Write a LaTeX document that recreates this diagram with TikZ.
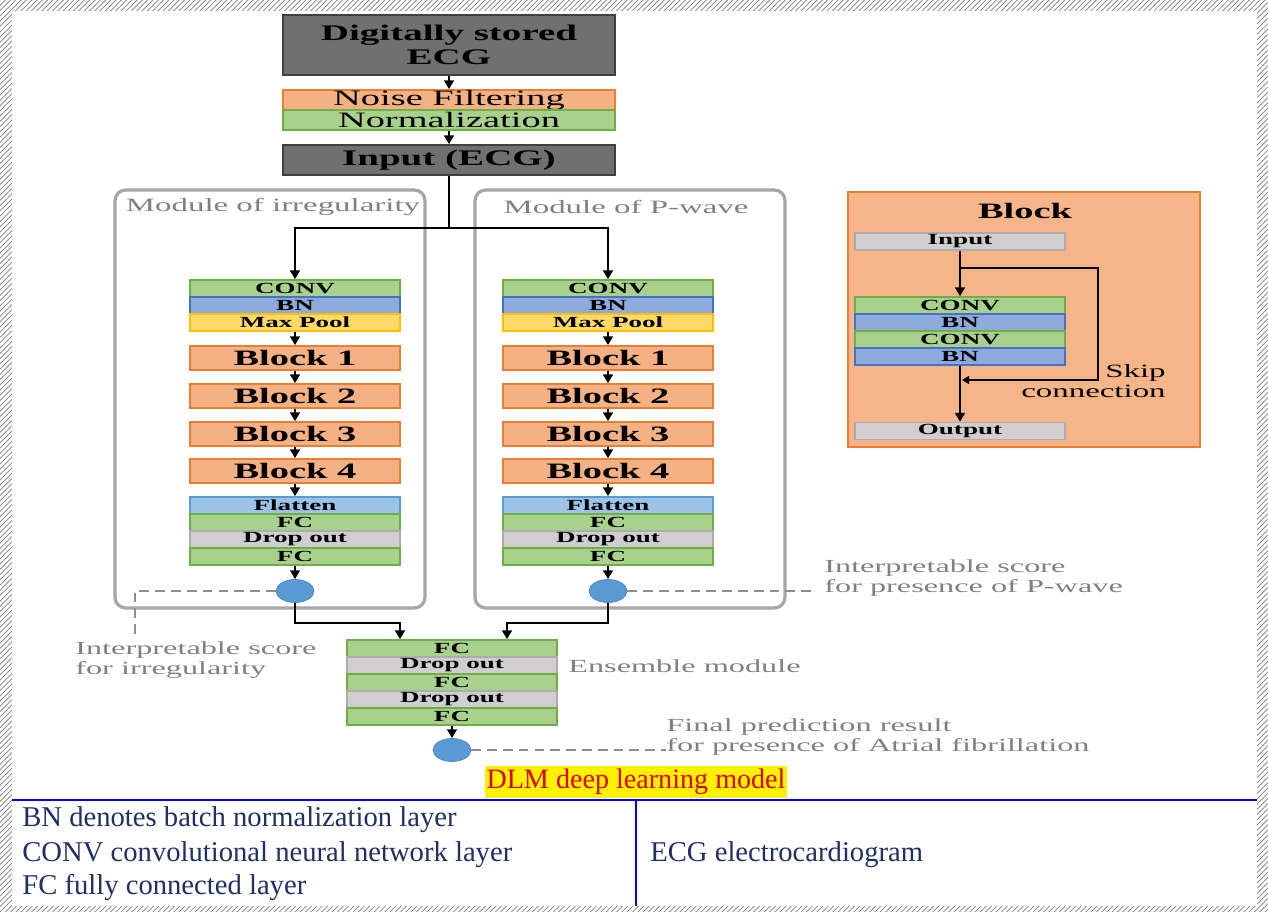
\documentclass[tikz,border=0pt]{standalone}
\usepackage{fontspec}
\setmainfont{Liberation Serif}
\newfontfamily\widefont{Liberation Serif}[FakeStretch=1.75]
\usepackage{tikz}
\usetikzlibrary{shapes.geometric, arrows.meta, positioning, backgrounds, calc, patterns}
\definecolor{greenfill}{RGB}{169, 209, 142}
\definecolor{greenedge}{RGB}{112, 173, 71}
\definecolor{bluefill}{RGB}{143, 170, 220}
\definecolor{blueedge}{RGB}{68, 114, 196}
\definecolor{yellowfill}{RGB}{255, 217, 102}
\definecolor{yellowedge}{RGB}{255, 192, 0}
\definecolor{salmonfill}{RGB}{244, 177, 131}
\definecolor{salmonedge}{RGB}{237, 125, 49}
\definecolor{skyfill}{RGB}{157, 195, 230}
\definecolor{skyedge}{RGB}{91, 155, 213}
\definecolor{grayfill}{RGB}{208, 206, 206}
\definecolor{grayedge}{RGB}{175, 171, 171}
\definecolor{darkfill}{RGB}{112, 112, 112}
\definecolor{scoreblue}{RGB}{91, 155, 213}
\definecolor{framegray}{RGB}{166, 166, 166}
\definecolor{notegray}{RGB}{128, 128, 128}
\definecolor{legendblue}{RGB}{31, 48, 100}
\definecolor{dlmred}{RGB}{220, 0, 0}

\begin{document}
\begin{tikzpicture}[
  x=0.02cm, y=-0.02cm,
  layer/.style={rectangle, minimum width=4.2cm, minimum height=0.34cm, inner sep=0pt, text centered, line width=0.9pt, font=\widefont\bfseries\fontsize{8.8}{9}\selectfont},
  lay_green/.style={layer, draw=greenedge, fill=greenfill},
  lay_blue/.style={layer, draw=blueedge, fill=bluefill},
  lay_yellow/.style={layer, draw=yellowedge, fill=yellowfill},
  lay_sky/.style={layer, draw=skyedge, fill=skyfill},
  lay_gray/.style={layer, draw=grayedge, fill=grayfill},
  lay_block/.style={layer, minimum height=0.48cm, draw=salmonedge, fill=salmonfill, font=\widefont\bfseries\fontsize{12.5}{13}\selectfont},
  top_dark/.style={rectangle, minimum width=6.64cm, minimum height=1.2cm, inner sep=0pt, align=center, line width=0.9pt, draw=black!75, fill=darkfill, font=\widefont\bfseries\fontsize{12.7}{14}\selectfont},
  top_band/.style={rectangle, minimum width=6.64cm, minimum height=0.4cm, inner sep=0pt, line width=0.9pt, font=\widefont\fontsize{12.5}{12.5}\selectfont},
  modframe/.style={rectangle, rounded corners=6pt, draw=framegray, line width=1.8pt, minimum width=6.2cm, minimum height=8.36cm},
  modlabel/.style={text=notegray, font=\widefont\fontsize{10.7}{11}\selectfont, inner sep=0pt},
  note/.style={text=notegray, align=left, font=\widefont\fontsize{10.5}{11.5}\selectfont, inner sep=0pt},
  score/.style={ellipse, fill=scoreblue, draw=scoreblue!85!black, line width=0.4pt, minimum width=0.76cm, minimum height=0.46cm, inner sep=0pt},
  blkframe/.style={rectangle, draw=salmonedge, line width=0.9pt, fill=salmonfill!95!white, minimum width=7.04cm, minimum height=5.1cm},
  legend/.style={text=legendblue, font=\fontsize{16.3}{19}\selectfont, inner sep=0pt},
  arr/.style={-{Triangle[length=5pt, width=5.5pt]}, line width=1.3pt, color=black},
  sarr/.style={-{Triangle[length=4pt, width=4.5pt]}, line width=0.9pt, color=black},
  dline/.style={dash pattern=on 5.5pt off 3.5pt, line width=1.3pt, color=notegray!90},
  tablerule/.style={line width=1.2pt, color=blue}
]
\useasboundingbox (0,0) rectangle (1268,912);

% Pre-processing
\node[top_dark] (ecg) at (449,45) {Digitally stored\\ECG};
\node[top_band, draw=salmonedge, fill=salmonfill] (noise) at (449,100) {Noise Filtering};
\node[top_band, draw=greenedge, fill=greenfill] (norm) at (449,120) {Normalization};
\node[top_dark, minimum height=0.6cm] (input) at (449,160) {Input (ECG)};
\coordinate (split) at (449,228);

% Module of irregularity
\node[lay_green] (convA) at (295,288.5) {CONV};
\node[lay_blue] (bnA) at (295,305.5) {BN};
\node[lay_yellow] (poolA) at (295,322.5) {Max Pool};
\node[lay_block] (blk1A) at (295,358) {Block 1};
\node[lay_block] (blk2A) at (295,396) {Block 2};
\node[lay_block] (blk3A) at (295,434) {Block 3};
\node[lay_block] (blk4A) at (295,471) {Block 4};
\node[lay_sky] (flatA) at (295,505.5) {Flatten};
\node[lay_green] (fc1A) at (295,522.5) {FC};
\node[lay_gray] (dropA) at (295,539.5) {Drop out};
\node[lay_green] (fc2A) at (295,556.5) {FC};
\node[score] (scoreA) at (295,591) {};

% Module of P-wave
\node[lay_green] (convB) at (608,288.5) {CONV};
\node[lay_blue] (bnB) at (608,305.5) {BN};
\node[lay_yellow] (poolB) at (608,322.5) {Max Pool};
\node[lay_block] (blk1B) at (608,358) {Block 1};
\node[lay_block] (blk2B) at (608,396) {Block 2};
\node[lay_block] (blk3B) at (608,434) {Block 3};
\node[lay_block] (blk4B) at (608,471) {Block 4};
\node[lay_sky] (flatB) at (608,505.5) {Flatten};
\node[lay_green] (fc1B) at (608,522.5) {FC};
\node[lay_gray] (dropB) at (608,539.5) {Drop out};
\node[lay_green] (fc2B) at (608,556.5) {FC};
\node[score] (scoreB) at (608,591) {};

% Ensemble module
\node[lay_green] (ensfc1) at (452,648.5) {FC};
\node[lay_gray] (ensdrop1) at (452,665.5) {Drop out};
\node[lay_green] (ensfc2) at (452,682.5) {FC};
\node[lay_gray] (ensdrop2) at (452,699.5) {Drop out};
\node[lay_green] (ensfc3) at (452,716.5) {FC};
\node[score] (final) at (452,750) {};
\node[note, anchor=west] (enslbl) at (568,666) {Ensemble module};

% Page frame and module frames
\begin{scope}[on background layer]
  \fill[pattern=north east lines, pattern color=gray] (0,0) rectangle (1268,912);
  \fill[white] (12,11) rectangle (1257,906);
  \node[modframe] (frameA) at (270,399) {};
  \node[modframe] (frameB) at (630,399) {};
\end{scope}
\node[modlabel] (lblA) at (273,207) {Module of irregularity};
\node[modlabel] (lblB) at (626,207) {Module of P-wave};

% Score notes
\node[note, anchor=north west] (noteA) at (75,641) {Interpretable score\\for irregularity};
\node[note, anchor=north west] (noteB) at (824,559) {Interpretable score\\for presence of P-wave};
\node[note, anchor=north west] (noteF) at (666,718) {Final prediction result\\for presence of Atrial fibrillation};
\coordinate (endA) at (135,639);

% Block detail
\node[blkframe] (blkbox) at (1024,319.5) {};
\node[font=\widefont\bfseries\fontsize{12.5}{13}\selectfont] (blkhead) at (1025,211) {Block};
\node[lay_gray] (blkin) at (960,241.5) {Input};
\node[lay_green] (blkconv1) at (960,305.5) {CONV};
\node[lay_blue] (blkbn1) at (960,322.5) {BN};
\node[lay_green] (blkconv2) at (960,339.5) {CONV};
\node[lay_blue] (blkbn2) at (960,356.5) {BN};
\node[lay_gray] (blkout) at (960,431) {Output};
\node[align=right, anchor=east, inner sep=0pt, font=\widefont\fontsize{10.7}{11.5}\selectfont] (skiplbl) at (1166,381) {Skip\\connection};
\coordinate (skipS) at (960,268);
\coordinate (skipE) at (962,380);

% Caption and legend
\node[fill=yellow, text=dlmred, inner xsep=1pt, inner ysep=2pt, font=\fontsize{16}{18}\selectfont] (dlm) at (636,782) {DLM deep learning model};
\draw[tablerule] (12,800) -- (1257,800);
\draw[tablerule] (636,800) -- (636,906);
\node[legend, anchor=west] (legBN) at (22,820) {BN denotes batch normalization layer};
\node[legend, anchor=west] (legCONV) at (22,855) {CONV convolutional neural network layer};
\node[legend, anchor=west] (legFC) at (22,888) {FC fully connected layer};
\node[legend, anchor=west] (legECG) at (650,855) {ECG electrocardiogram};

% Edges - pre-processing
\draw[arr] (ecg) -- (noise);
\draw[arr] (norm) -- (input);
\draw[arr] (input.south) -- (split) -| (convA.north);
\draw[arr] (split) -| (convB.north);

% Edges - modules
\draw[arr] (poolA) -- (blk1A);
\draw[arr] (blk1A) -- (blk2A);
\draw[arr] (blk2A) -- (blk3A);
\draw[arr] (blk3A) -- (blk4A);
\draw[arr] (blk4A) -- (flatA);
\draw[arr] (fc2A) -- (scoreA);
\draw[arr] (poolB) -- (blk1B);
\draw[arr] (blk1B) -- (blk2B);
\draw[arr] (blk2B) -- (blk3B);
\draw[arr] (blk3B) -- (blk4B);
\draw[arr] (blk4B) -- (flatB);
\draw[arr] (fc2B) -- (scoreB);

% Edges - ensemble
\draw[arr] (scoreA.south) -- ++(0,20) -| ([xshift=-1.04cm]ensfc1.north);
\draw[arr] (scoreB.south) -- ++(0,20) -| ([xshift=1.1cm]ensfc1.north);
\draw[arr] (ensfc3) -- (final);

% Dashed score leaders
\draw[dline] (scoreA.west) -| (endA);
\draw[dline] (scoreB.east) -- ($(scoreB.east -| noteB.west)+(-8,0)$);
\draw[dline] (final.east) -- (final.east -| noteF.west);

% Edges - block detail
\draw[arr] (blkin) -- (blkconv1);
\draw[arr] (blkbn2) -- (blkout);
\draw[sarr] (skipS) -- ++(138,0) |- (skipE);

\end{tikzpicture}
\end{document}
